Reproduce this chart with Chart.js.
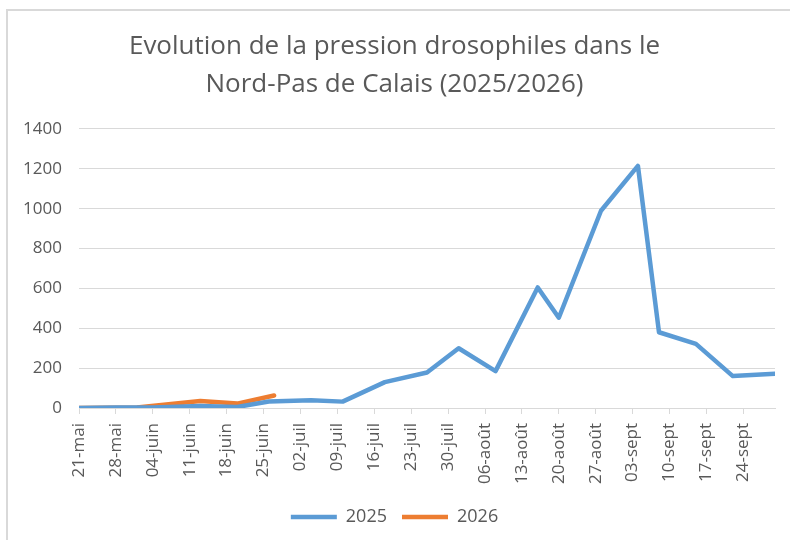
<!DOCTYPE html>
<html>
<head>
<meta charset="utf-8">
<script src="https://cdn.jsdelivr.net/npm/chart.js@4/dist/chart.umd.min.js"></script>
<style>
  html, body { margin: 0; padding: 0; background: #fff; }
  #wrap { width: 790px; height: 540px; }
</style>
</head>
<body>
<div id="wrap"><canvas id="chart" width="790" height="540"></canvas></div>
<script>
// Data (days counted from 21-mai)
const tickLabels = ["21-mai", "28-mai", "04-juin", "11-juin", "18-juin", "25-juin", "02-juil", "09-juil", "16-juil", "23-juil",
  "30-juil", "06-août", "13-août", "20-août", "27-août", "03-sept", "10-sept", "17-sept", "24-sept"];
const days2025 = [0, 7, 14, 23, 30, 36, 44, 50, 58, 66, 72, 79, 87, 91, 99, 106, 110, 117, 124, 132];
const values2025 = [0, 2, 3, 10, 5, 33, 39, 32, 130, 178, 300, 185, 605, 453, 990, 1215, 380, 322, 160, 172];
const days2026 = [0, 11, 23, 30, 37];
const values2026 = [0, 3, 35, 22, 63];

const FONT = "'Open Sans', 'Liberation Sans', sans-serif";
const GREY = "#595959";

// white background + frame like the Excel chart box
const framePlugin = {
  id: "frame",
  beforeDraw(chart) {
    const ctx = chart.ctx;
    ctx.save();
    ctx.fillStyle = "#fff";
    ctx.fillRect(0, 0, chart.width, chart.height);
    ctx.strokeStyle = "#D9D9D9";
    ctx.lineWidth = 2;
    ctx.beginPath();
    ctx.moveTo(7, chart.height);
    ctx.lineTo(7, 10);
    ctx.lineTo(chart.width, 10);
    ctx.stroke();
    ctx.restore();
  }
};

function toPoints(days, values) {
  return days.map((d, i) => ({ x: d, y: values[i] }));
}

const ctx = document.getElementById("chart").getContext("2d");
new Chart(ctx, {
  type: "line",
  data: {
    datasets: [
      {
        label: "2025",
        data: toPoints(days2025, values2025),
        borderColor: "#5B9BD5",
        backgroundColor: "#5B9BD5",
        borderWidth: 4.5,
        pointRadius: 0,
        tension: 0,
        borderJoinStyle: "round",
        borderCapStyle: "round"
      },
      {
        label: "2026",
        data: toPoints(days2026, values2026),
        borderColor: "#ED7D31",
        backgroundColor: "#ED7D31",
        borderWidth: 4.5,
        pointRadius: 0,
        tension: 0,
        borderJoinStyle: "round",
        borderCapStyle: "round"
      }
    ]
  },
  options: {
    responsive: false,
    animation: false,
    layout: { padding: { left: 14, right: 15, top: 0, bottom: 4 } },
    plugins: {
      title: {
        display: true,
        text: ["Evolution de la pression drosophiles dans le", "Nord-Pas de Calais (2025/2026)"],
        color: GREY,
        font: { family: FONT, size: 26, weight: "normal", lineHeight: 1.4615 },
        padding: { top: 28, bottom: 25 }
      },
      legend: {
        position: "bottom",
        labels: {
          usePointStyle: true,
          pointStyle: "line",
          pointStyleWidth: 46,
          color: GREY,
          font: { family: FONT, size: 18 },
          padding: 15
        }
      },
      tooltip: { enabled: false }
    },
    scales: {
      x: {
        type: "linear",
        min: 0,
        max: 132,
        afterFit: (scale) => { scale.height = 85; },
        grid: { drawOnChartArea: false, drawTicks: true, tickLength: 6, color: "#D9D9D9" },
        border: { color: "#D9D9D9", width: 1 },
        ticks: {
          stepSize: 7,
          autoSkip: false,
          includeBounds: false,
          minRotation: 90,
          maxRotation: 90,
          padding: 9,
          color: GREY,
          font: { family: FONT, size: 17 },
          callback: (value) => tickLabels[value / 7]
        }
      },
      y: {
        min: 0,
        max: 1400,
        afterFit: (scale) => { scale.width = 65; },
        grid: { color: "#D9D9D9", lineWidth: 1, drawTicks: false },
        border: { display: false },
        ticks: {
          stepSize: 200,
          padding: 17,
          color: GREY,
          font: { family: FONT, size: 17 },
          callback: (value) => String(value)
        }
      }
    }
  },
  plugins: [framePlugin]
});
</script>
</body>
</html>
